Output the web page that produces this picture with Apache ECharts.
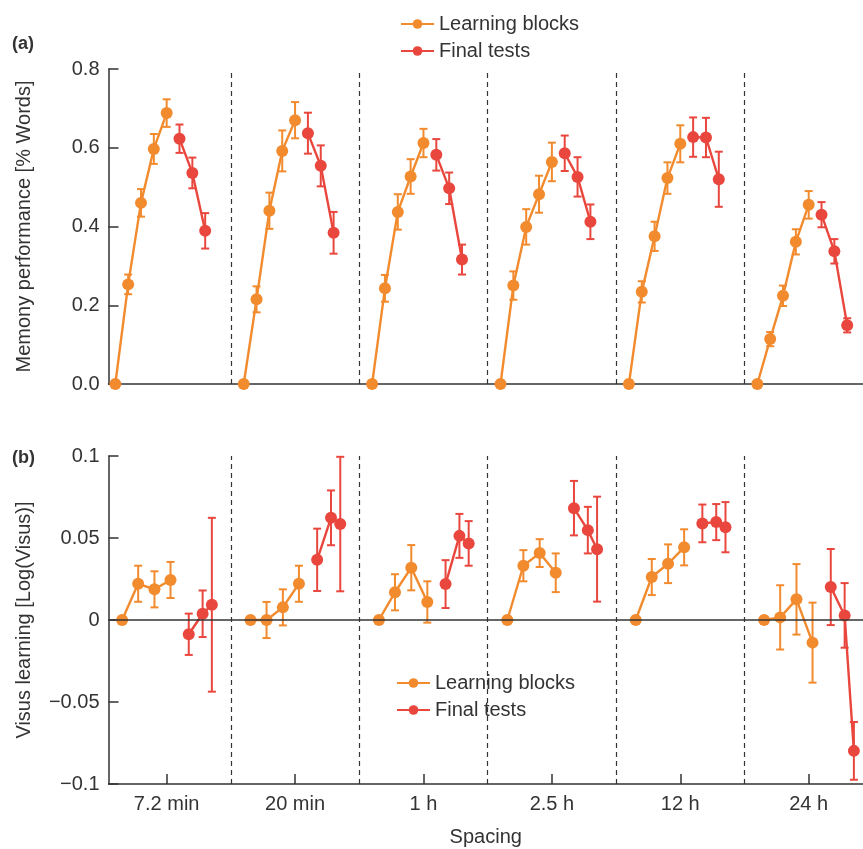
<!DOCTYPE html>
<html>
<head>
<meta charset="utf-8">
<script src="https://cdn.jsdelivr.net/npm/echarts@6/dist/echarts.min.js"></script>
<style>
  html, body { margin: 0; padding: 0; background: #fff; }
  #main { width: 863px; height: 849px; }
</style>
</head>
<body>
<div id="main"></div>
<script>
// spacing conditions (one group per condition)
const spacings = ['7.2 min', '20 min', '1 h', '2.5 h', '12 h', '24 h'];

// (a) memory performance: 5 learning blocks + 3 final tests per group
const blocksX_a = [0, 1, 2, 3, 4];
const testsX_a = [5, 6, 7];
const blocks_a = [
    [0, 0.253, 0.460, 0.597, 0.688],
    [0, 0.215, 0.440, 0.592, 0.670],
    [0, 0.243, 0.437, 0.527, 0.612],
    [0, 0.250, 0.399, 0.482, 0.564],
    [0, 0.234, 0.375, 0.523, 0.610],
    [0, 0.114, 0.224, 0.361, 0.455]
];
const blocksErr_a = [
    [0, 0.025, 0.035, 0.038, 0.035],
    [0, 0.033, 0.046, 0.052, 0.046],
    [0, 0.034, 0.045, 0.044, 0.036],
    [0, 0.036, 0.045, 0.047, 0.049],
    [0, 0.027, 0.037, 0.040, 0.047],
    [0, 0.018, 0.026, 0.032, 0.035]
];
const tests_a = [
    [0.623, 0.536, 0.389],
    [0.637, 0.554, 0.384],
    [0.582, 0.497, 0.316],
    [0.586, 0.526, 0.412],
    [0.627, 0.626, 0.520],
    [0.430, 0.337, 0.149]
];
const testsErr_a = [
    [0.036, 0.039, 0.045],
    [0.052, 0.052, 0.053],
    [0.040, 0.040, 0.038],
    [0.045, 0.050, 0.044],
    [0.050, 0.050, 0.070],
    [0.032, 0.031, 0.018]
];

// (b) visus learning: 4 learning blocks + 3 final tests per group
const blocksX_b = [0.53, 1.78, 3.05, 4.3];
const testsX_b = [5.72, 6.8, 7.52];
const blocks_b = [
    [0, 0.0221, 0.0187, 0.0244],
    [0, 0.0000, 0.0077, 0.0221],
    [0, 0.0169, 0.0319, 0.0110],
    [0, 0.0331, 0.0408, 0.0288],
    [0, 0.0262, 0.0343, 0.0443],
    [0, 0.0016, 0.0126, -0.0138]
];
const blocksErr_b = [
    [0, 0.011, 0.011, 0.011],
    [0, 0.011, 0.011, 0.011],
    [0, 0.011, 0.0138, 0.0126],
    [0, 0.0095, 0.0085, 0.0118],
    [0, 0.011, 0.0118, 0.011],
    [0, 0.0196, 0.0215, 0.0244]
];
const tests_b = [
    [-0.0087, 0.0038, 0.0093],
    [0.0367, 0.0623, 0.0585],
    [0.0219, 0.0513, 0.0467],
    [0.0682, 0.0548, 0.0432],
    [0.0589, 0.0597, 0.0566],
    [0.0201, 0.0028, -0.0798]
];
const testsErr_b = [
    [0.0126, 0.0142, 0.053],
    [0.019, 0.0167, 0.041],
    [0.0146, 0.0134, 0.0136],
    [0.0166, 0.0142, 0.032],
    [0.0115, 0.011, 0.0153],
    [0.0232, 0.0197, 0.0176]
];

const groupStep = 10;
const tickX = spacings.map((s, i) => i * groupStep + 4);
const dividerX = [9, 19, 29, 39, 49];

const c_orange = '#F28A2E';
const c_red = '#E9473E';
const c_text = '#333';
const font = 'Liberation Sans';

// line data with a break between groups
function lineData(xs, vals) {
    let out = [];
    vals.forEach((row, g) => {
        row.forEach((v, k) => out.push([g * groupStep + xs[k], v]));
        out.push([g * groupStep + xs[xs.length - 1] + 0.5, null]);
    });
    return out;
}
function errData(xs, vals, errs) {
    let out = [];
    vals.forEach((row, g) => {
        row.forEach((v, k) => {
            if (errs[g][k] > 0) out.push([g * groupStep + xs[k], v - errs[g][k], v + errs[g][k]]);
        });
    });
    return out;
}

function errSeries(idx, data, color) {
    return {
        type: 'custom',
        xAxisIndex: idx,
        yAxisIndex: idx,
        silent: true,
        z: 2,
        data: data,
        renderItem(params, api) {
            const lo = api.coord([api.value(0), api.value(1)]);
            const hi = api.coord([api.value(0), api.value(2)]);
            const w = 4;
            const st = { stroke: color, lineWidth: 2 };
            return {
                type: 'group',
                children: [
                    { type: 'line', shape: { x1: lo[0], y1: lo[1], x2: hi[0], y2: hi[1] }, style: st },
                    { type: 'line', shape: { x1: lo[0] - w, y1: lo[1], x2: lo[0] + w, y2: lo[1] }, style: st },
                    { type: 'line', shape: { x1: hi[0] - w, y1: hi[1], x2: hi[0] + w, y2: hi[1] }, style: st }
                ]
            };
        }
    };
}

function lineSeries(name, idx, data, color, extra) {
    return Object.assign({
        type: 'line',
        name: name,
        xAxisIndex: idx,
        yAxisIndex: idx,
        data: data,
        connectNulls: false,
        symbol: 'circle',
        symbolSize: 12,
        showAllSymbol: true,
        z: 3,
        itemStyle: { color: color },
        lineStyle: { color: color, width: 2.4 },
        emphasis: { disabled: true }
    }, extra || {});
}

const dividerMark = {
    silent: true,
    symbol: 'none',
    label: { show: false },
    lineStyle: { color: '#333', type: [5, 4], width: 1.2 },
    data: dividerX.map(x => ({ xAxis: x }))
};

const xMin = -0.53, xMax = 58.23;

const xAxisBase = {
    type: 'value',
    min: xMin,
    max: xMax,
    splitLine: { show: false },
    axisLine: { onZero: false, lineStyle: { color: '#333', width: 1.5 } }
};
const yAxisBase = {
    type: 'value',
    splitLine: { show: false },
    nameLocation: 'middle',
    nameRotate: 90,
    nameMoveOverlap: false,
    nameTextStyle: { color: c_text, fontSize: 20, fontFamily: font },
    axisLine: { show: true, onZero: false, lineStyle: { color: '#333', width: 1.5 } },
    axisTick: { show: true, inside: true, length: 10, lineStyle: { color: '#333', width: 1.5 } },
    axisLabel: { color: c_text, fontSize: 20, fontFamily: font, margin: 9 }
};

const legendBase = {
    orient: 'vertical',
    itemWidth: 33,
    itemHeight: 12,
    itemGap: 7,
    textStyle: { color: c_text, fontSize: 20, fontFamily: font },
    data: ['Learning blocks', 'Final tests'],
    selectedMode: false
};

const chart = echarts.init(document.getElementById('main'));
chart.setOption({
    animation: false,
    textStyle: { fontFamily: font },
    grid: [
        { left: 108.5, right: 0, top: 69, height: 315, outerBoundsMode: 'none', containLabel: false },
        { left: 108.5, right: 0, top: 456, height: 328, outerBoundsMode: 'none', containLabel: false }
    ],
    legend: [
        Object.assign({}, legendBase, { left: 395, top: 9 }),
        Object.assign({}, legendBase, { left: 391, top: 668 })
    ],
    xAxis: [
        Object.assign({}, xAxisBase, {
            gridIndex: 0,
            axisTick: { show: false },
            axisLabel: { show: false }
        }),
        Object.assign({}, xAxisBase, {
            gridIndex: 1,
            name: 'Spacing',
            nameLocation: 'middle',
            nameGap: 43,
            nameMoveOverlap: false,
            nameTextStyle: { color: c_text, fontSize: 20, fontFamily: font },
            axisTick: { show: true, inside: true, length: 10, customValues: tickX, lineStyle: { color: '#333', width: 1.5 } },
            axisLabel: {
                color: c_text, fontSize: 20, fontFamily: font, margin: 10,
                customValues: tickX,
                formatter: v => spacings[Math.round((v - 4) / groupStep)] || ''
            }
        })
    ],
    yAxis: [
        Object.assign({}, yAxisBase, {
            gridIndex: 0,
            min: 0, max: 0.8, interval: 0.2,
            name: 'Memony performance [% Words]',
            nameGap: 74,
            axisLabel: Object.assign({}, yAxisBase.axisLabel, { formatter: v => v.toFixed(1) })
        }),
        Object.assign({}, yAxisBase, {
            gridIndex: 1,
            min: -0.1, max: 0.1, interval: 0.05,
            name: 'Visus learning [Log(Visus)]',
            nameGap: 74,
            axisLabel: Object.assign({}, yAxisBase.axisLabel, {
                formatter: v => {
                    let s = Math.abs(v) < 1e-9 ? '0' : String(+v.toFixed(2));
                    return s.replace('-', '\u2212');
                }
            })
        })
    ],
    graphic: [
        { type: 'text', left: 12, top: 35, style: { text: '(a)', fontSize: 18, fontWeight: 'bold', fill: c_text, fontFamily: font } },
        { type: 'text', left: 12, top: 449, style: { text: '(b)', fontSize: 18, fontWeight: 'bold', fill: c_text, fontFamily: font } }
    ],
    series: [
        lineSeries('Learning blocks', 0, lineData(blocksX_a, blocks_a), c_orange, { markLine: dividerMark }),
        lineSeries('Final tests', 0, lineData(testsX_a, tests_a), c_red),
        lineSeries('Learning blocks', 1, lineData(blocksX_b, blocks_b), c_orange, {
            markLine: Object.assign({}, dividerMark, {
                data: dividerMark.data.concat([{ yAxis: 0, lineStyle: { type: 'solid', color: '#333', width: 1.5 } }])
            })
        }),
        lineSeries('Final tests', 1, lineData(testsX_b, tests_b), c_red),

        errSeries(0, errData(blocksX_a, blocks_a, blocksErr_a), c_orange),
        errSeries(0, errData(testsX_a, tests_a, testsErr_a), c_red),
        errSeries(1, errData(blocksX_b, blocks_b, blocksErr_b), c_orange),
        errSeries(1, errData(testsX_b, tests_b, testsErr_b), c_red)
    ]
});
</script>
</body>
</html>
